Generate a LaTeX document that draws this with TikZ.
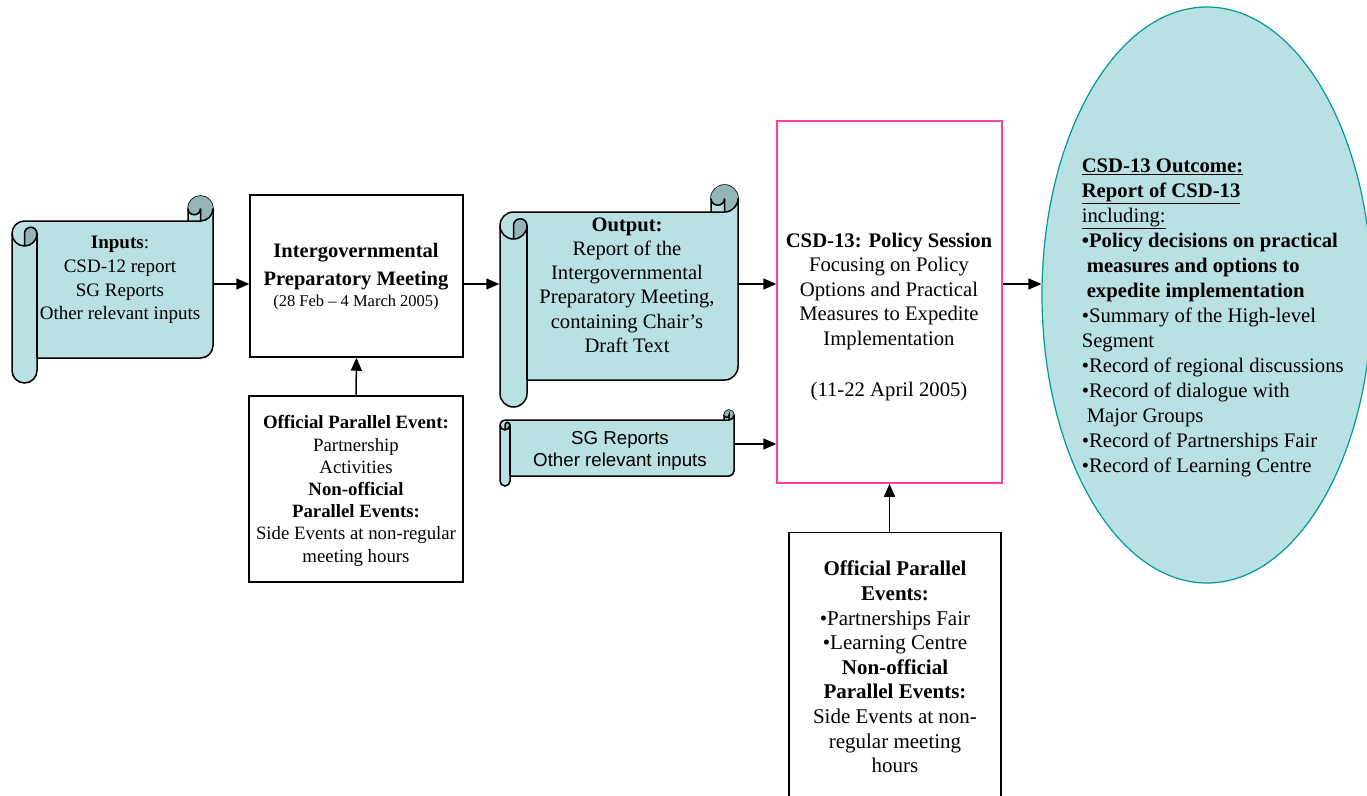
\documentclass[tikz,border=0pt]{standalone}
\usepackage{fontspec}
\setmainfont{Liberation Serif}
\newfontfamily\arialfont{Liberation Sans}
\usetikzlibrary{arrows.meta,shapes.geometric}

\definecolor{scrollteal}{RGB}{185,224,227}
\definecolor{rolldark}{RGB}{148,180,183}
\definecolor{csdpink}{RGB}{255,64,160}
\definecolor{outcometeal}{RGB}{0,153,153}

% scroll: x1, y1, x2, y2, roll thickness, name
\newcommand\drawscroll[6]{%
  \pgfmathsetmacro\scrd{#5}%
  \pgfmathsetmacro\scrr{#5/2}%
  \pgfmathsetmacro\scrq{#5/4}%
  \filldraw[fill=scrollteal] (#1,{#2+\scrd+\scrr}) arc[start angle=180,end angle=270,radius=\scrr]
    -- ({#3-\scrd},{#2+\scrd}) -- ({#3-\scrd},{#2+\scrr}) arc[start angle=180,end angle=360,radius=\scrr]
    -- (#3,{#4-\scrd-\scrr}) arc[start angle=0,end angle=90,radius=\scrr]
    -- ({#1+\scrd},{#4-\scrd}) -- ({#1+\scrd},{#4-\scrr}) arc[start angle=0,end angle=180,radius=\scrr] -- cycle;
  \fill[rolldark] ({#1+\scrr},{#2+2*\scrd}) arc[start angle=90,end angle=0,radius=\scrr]
    arc[start angle=0,end angle=-180,radius=\scrq] -- cycle;
  \fill[rolldark] ({#3-\scrr},{#2+\scrd}) arc[start angle=90,end angle=-180,radius=\scrr]
    arc[start angle=180,end angle=0,radius=\scrq] -- cycle;
  \draw ({#3-\scrd},{#2+\scrd}) -- ({#3-\scrr},{#2+\scrd}) arc[start angle=90,end angle=0,radius=\scrr];
  \draw ({#3-\scrr},{#2+\scrd}) -- ({#3-\scrr},{#2+\scrr}) arc[start angle=0,end angle=180,radius=\scrq];
  \draw ({#1+\scrr},{#2+2*\scrd}) -- ({#1+\scrr},{#2+\scrd+\scrr}) arc[start angle=180,end angle=360,radius=\scrq]
    arc[start angle=0,end angle=180,radius=\scrr];
  \draw ({#1+\scrd},{#2+\scrd+\scrr}) -- ({#1+\scrd},{#4-\scrd});
  \node[frame, minimum width={#3-#1}, minimum height={#4-#2}] (#6) at ({(#1+#3)/2},{(#2+#4)/2}) {};
}

\begin{document}
\begin{tikzpicture}[x=1pt, y=-1pt, line width=1.5pt,
    box/.style = {draw, inner sep=0pt},
    frame/.style = {inner sep=0pt},
    txt/.style = {align=center, inner sep=0pt},
    arr/.style = {-{Triangle[length=13pt,width=11pt]}}]

\useasboundingbox (0,0) rectangle (1367,795);
\clip (0,0) rectangle (1367,795);

% Rows of the arrows
\coordinate (flow) at (0,284);
\coordinate (sgrow) at (0,444);

% Inputs scroll
\drawscroll{12}{196}{213}{383}{25}{inputs}
\node[txt, font=\fontsize{19}{23.7}\selectfont] (inputstext) at (120,280)
  {\textbf{Inputs}:\\ CSD-12 report\\ SG Reports\\ Other relevant inputs};

% Intergovernmental Preparatory Meeting
\node[box, minimum width=213, minimum height=162] (ipm) at (356.5,276) {};
\node[txt, font=\fontsize{20.5}{28}\selectfont] (ipmtext) at (356,277)
  {\textbf{Intergovernmental}\\ \textbf{Preparatory Meeting}\\[-7pt]
   {\fontsize{16.5}{20}\selectfont (28 Feb -- 4 March 2005)}};

% Official parallel event (IPM)
\node[box, minimum width=214, minimum height=186] (ope) at (356,489) {};
\node[txt, font=\fontsize{18.8}{22.2}\selectfont] (opetext) at (356,491)
  {\textbf{Official Parallel Event:}\\ Partnership\\ Activities\\ \textbf{Non-official}\\
   \textbf{Parallel Events:}\\ Side Events at non-regular\\ meeting hours};

% Output scroll
\drawscroll{500}{185}{738}{407}{27}{output}
\node[txt, font=\fontsize{20.6}{24.2}\selectfont] (outputtext) at (627,285)
  {\textbf{Output:}\\ Report of the\\ Intergovernmental\\ Preparatory Meeting,\\
   containing Chair’s\\ Draft Text};

% SG reports scroll
\drawscroll{500}{410}{734}{486}{10}{sg}
\node[txt, font=\arialfont\fontsize{18.7}{22}\selectfont] (sgtext) at (620,451)
  {SG Reports\\ Other relevant inputs};

% CSD-13 policy session
\node[box, draw=csdpink, minimum width=225, minimum height=362] (csd) at (889.5,302) {};
\node[txt, font=\fontsize{20.7}{24.5}\selectfont] (csdtext) at (889,317)
  {\textbf{CSD-13: Policy Session}\\ Focusing on Policy\\ Options and Practical\\
   Measures to Expedite\\ Implementation\\[27pt] (11-22 April 2005)};

% Official parallel events (CSD-13)
\node[box, minimum width=212, minimum height=267] (opcsd) at (895,666) {};
\node[txt, font=\fontsize{21}{24.6}\selectfont] (opcsdtext) at (895,667)
  {\textbf{Official Parallel}\\ \textbf{Events:}\\ •Partnerships Fair\\ •Learning Centre\\
   \textbf{Non-official}\\ \textbf{Parallel Events:}\\ Side Events at non-\\ regular meeting\\ hours};

% CSD-13 outcome
\node[ellipse, draw=outcometeal, fill=scrollteal, line width=1.2pt, inner sep=0pt,
  minimum width=330, minimum height=576] (outcome) at (1207,295) {};
\node[align=left, inner sep=0pt, anchor=west, font=\fontsize{20.7}{25}\selectfont] (outcometext) at (1081,318)
  {\underline{\textbf{CSD-13 Outcome:}}\\ \underline{\textbf{Report of CSD-13}}\\ \underline{including:}\\
   \textbf{•Policy decisions on practical}\\ \hspace*{5pt}\textbf{measures and options to}\\
   \hspace*{5pt}\textbf{expedite implementation}\\ •Summary of the High-level\\ Segment\\
   •Record of regional discussions\\ •Record of dialogue with\\ \hspace*{5pt}Major Groups\\
   •Record of Partnerships Fair\\ •Record of Learning Centre};

% Connectors
\draw[arr] (inputs.east |- flow) -- (ipm.west |- flow);
\draw[arr] (ipm.east |- flow) -- (output.west |- flow);
\draw[arr] (output.east |- flow) -- (csd.west |- flow);
\draw[arr] (csd.east |- flow) -- (outcome.west |- flow);
\draw[arr] (sg.east |- sgrow) -- (csd.west |- sgrow);
\draw[arr] (ope.north) -- (ipm.south);
\draw[arr] (opcsd.north -| csd.south) -- (csd.south);
\end{tikzpicture}
\end{document}
